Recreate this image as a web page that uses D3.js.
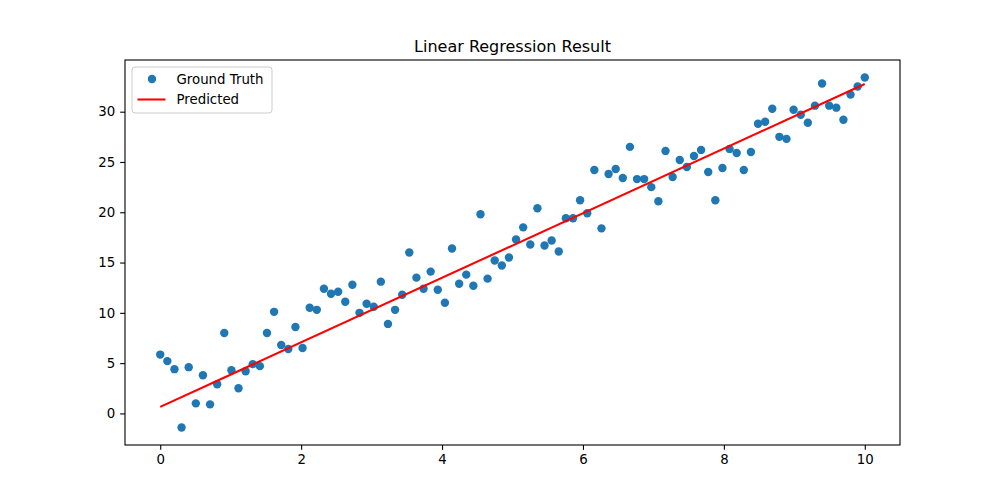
<!DOCTYPE html>
<html>
<head>
<meta charset="utf-8">
<script src="https://cdn.jsdelivr.net/npm/d3@7"></script>
<style>
  body { margin: 0; background: #fff; }
  svg { display: block; font-family: "DejaVu Sans", sans-serif; }
</style>
</head>
<body>
<svg id="chart" width="1000" height="500"></svg>
<script>
// ---- data ----
const groundTruthY = [
  5.85, 5.2, 4.4, -1.4, 4.6, 1.0, 3.8, 0.9, 2.9, 8.0,
  4.3, 2.5, 4.2, 4.9, 4.7, 8.0, 10.1, 6.8, 6.4, 8.6,
  6.5, 10.5, 10.3, 12.4, 11.9, 12.1, 11.1, 12.8, 10.0, 10.9,
  10.6, 13.1, 8.9, 10.3, 11.8, 16.0, 13.5, 12.4, 14.1, 12.3,
  11.0, 16.4, 12.9, 13.8, 12.7, 19.8, 13.4, 15.2, 14.7, 15.5,
  17.3, 18.5, 16.8, 20.4, 16.7, 17.2, 16.1, 19.4, 19.4, 21.2,
  19.9, 24.2, 18.4, 23.8, 24.3, 23.4, 26.5, 23.3, 23.3, 22.5,
  21.1, 26.1, 23.5, 25.2, 24.5, 25.6, 26.2, 24.0, 21.2, 24.4,
  26.3, 25.9, 24.2, 26.0, 28.8, 29.0, 30.3, 27.5, 27.3, 30.2,
  29.7, 28.9, 30.6, 32.8, 30.6, 30.4, 29.2, 31.7, 32.5, 33.4
];
const xStart = 0, xEnd = 10, nPoints = groundTruthY.length;
const groundTruthX = d3.range(nPoints).map(i => xStart + i * (xEnd - xStart) / (nPoints - 1));
const predictedX = [0, 10];
const predictedY = [0.65, 32.75];
const xTicks = [0, 2, 4, 6, 8, 10];
const yTicks = [0, 5, 10, 15, 20, 25, 30];
const titleText = "Linear Regression Result";
const legendLabels = ["Ground Truth", "Predicted"];

// ---- layout ----
const mLeft = 125, mRight = 900, mTop = 60, mBottom = 445;
const svg = d3.select("#chart");

const allX = groundTruthX.concat(predictedX);
const allY = groundTruthY.concat(predictedY);
const [x0, x1] = d3.extent(allX), [y0, y1] = d3.extent(allY);
const mx = (x1 - x0) * 0.05, my = (y1 - y0) * 0.05;
const x = d3.scaleLinear().domain([x0 - mx, x1 + mx]).range([mLeft, mRight]);
const y = d3.scaleLinear().domain([y0 - my, y1 + my]).range([mBottom, mTop]);

// points
svg.append("g").selectAll("circle")
  .data(groundTruthX.map((d, i) => [d, groundTruthY[i]]))
  .join("circle")
  .attr("cx", d => x(d[0])).attr("cy", d => y(d[1]))
  .attr("r", 4.2).attr("fill", "#1f77b4");

// predicted line
svg.append("path")
  .datum(predictedX.map((d, i) => [d, predictedY[i]]))
  .attr("d", d3.line().x(d => x(d[0])).y(d => y(d[1])))
  .attr("fill", "none").attr("stroke", "#ff0000").attr("stroke-width", 2.08);

// axes
const xAxis = svg.append("g").attr("transform", `translate(0,${mBottom})`)
  .call(d3.axisBottom(x).tickValues(xTicks).tickFormat(d3.format("d")).tickSize(4.86).tickPadding(4.9));
const yAxis = svg.append("g").attr("transform", `translate(${mLeft},0)`)
  .call(d3.axisLeft(y).tickValues(yTicks).tickFormat(d3.format("d")).tickSize(4.86).tickPadding(4.9));
[xAxis, yAxis].forEach(a => {
  a.select(".domain").remove();
  a.selectAll("line").attr("stroke", "#000").attr("stroke-width", 1.1);
  a.selectAll("text").attr("font-size", "13.33px").attr("fill", "#000")
    .attr("font-family", "DejaVu Sans, sans-serif");
});

// frame
svg.append("rect").attr("x", mLeft).attr("y", mTop)
  .attr("width", mRight - mLeft).attr("height", mBottom - mTop)
  .attr("fill", "none").attr("stroke", "#000").attr("stroke-width", 1.1);

// title
svg.append("text").attr("x", (mLeft + mRight) / 2).attr("y", mTop - 8.5)
  .attr("text-anchor", "middle").attr("font-size", "16px").text(titleText);

// legend
const lg = svg.append("g").attr("transform", `translate(${mLeft + 7},${mTop + 7})`);
lg.append("rect").attr("x", 0).attr("y", 0).attr("width", 140).attr("height", 46)
  .attr("rx", 3).attr("fill", "#fff").attr("fill-opacity", 0.8)
  .attr("stroke", "#cccccc").attr("stroke-width", 1);
lg.append("circle").attr("cx", 20).attr("cy", 12).attr("r", 4.2).attr("fill", "#1f77b4");
lg.append("line").attr("x1", 5.5).attr("x2", 33.5).attr("y1", 32.5).attr("y2", 32.5)
  .attr("stroke", "#ff0000").attr("stroke-width", 2.08);
lg.selectAll("text.lab").data(legendLabels).join("text").attr("class", "lab")
  .attr("x", 44.5).attr("y", (d, i) => 16.5 + i * 20.5)
  .attr("font-size", "13.33px").text(d => d);
</script>
</body>
</html>
